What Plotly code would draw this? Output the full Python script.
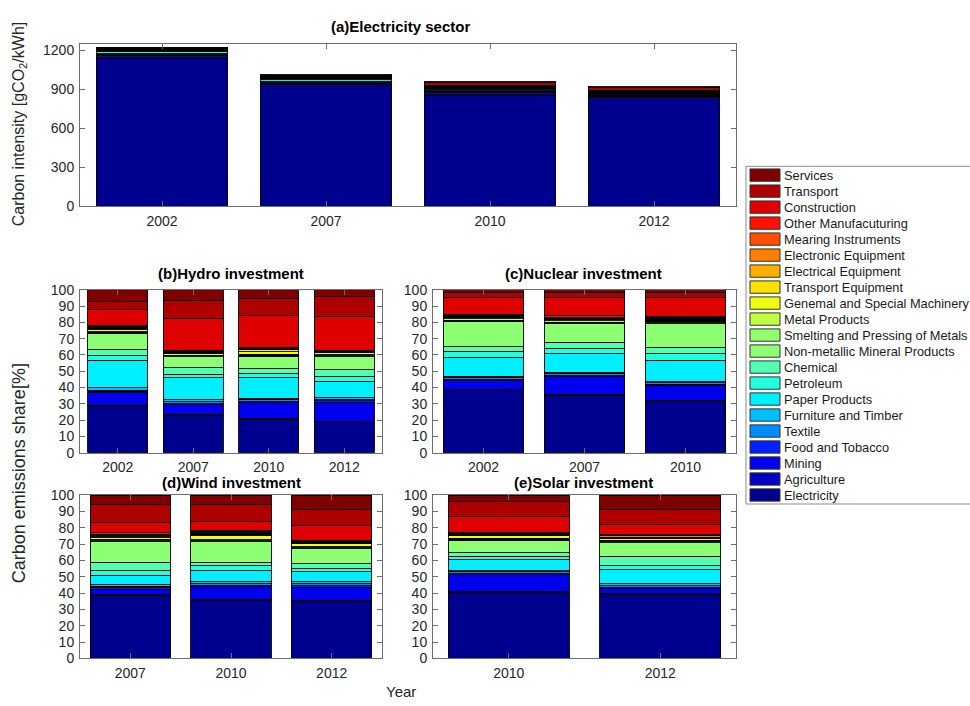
import plotly.graph_objects as go

# Sectors, bottom of the stack first
sectors = [
    "Electricity", "Agriculture", "Mining", "Food and Tobacco", "Textile",
    "Furniture and Timber", "Paper Products", "Petroleum", "Chemical",
    "Non-metallic Mineral Products", "Smelting and Pressing of Metals",
    "Metal Products", "Genemal and Special Machinery", "Transport Equipment",
    "Electrical Equipment", "Electronic Equipment", "Mearing Instruments",
    "Other Manufacuturing", "Construction", "Transport", "Services",
]
sector_colors = [
    "#00008F", "#0000BF", "#0000EF", "#0020FF", "#008CFF",
    "#00BFFF", "#00EFFF", "#20FFDF", "#50FFAF",
    "#8CFF73", "#90FF6F",
    "#BFFF40", "#EFFF10", "#FFE000",
    "#FFAF00", "#FF7F00", "#FF4F00",
    "#FF1000", "#DF0000", "#AF0000", "#7F0000",
]

# (a) Electricity sector, carbon intensity [gCO2/kWh]
elec_years = ["2002", "2007", "2010", "2012"]
elec_2002 = [1137, 5, 15, 5, 3, 3, 10, 8, 4, 5, 5, 2, 2, 2, 2, 1, 1, 2, 3, 3, 2]
elec_2007 = [935, 5, 12, 4, 3, 3, 12, 6, 4, 4, 4, 2, 2, 1, 1, 1, 1, 2, 3, 3, 4]
elec_2010 = [852, 5, 15, 5, 3, 3, 6, 8, 6, 5, 4, 2, 2, 1, 1, 1, 1, 2, 4, 22, 10]
elec_2012 = [818, 5, 14, 5, 3, 3, 6, 8, 7, 5, 4, 2, 2, 1, 1, 1, 1, 2, 4, 20, 8]

# (b) Hydro investment, emissions share [%]
hydro_years = ["2002", "2007", "2010", "2012"]
hydro_2002 = [28.6, 0.6, 7.8, 0.6, 0.8, 1.4, 16.8, 3.0, 4.0, 9.6, 0.6,
              0.5, 1.2, 0.6, 0.4, 0.4, 0.3, 0.8, 10.0, 4.6, 7.4]
hydro_2007 = [23.0, 0.6, 5.8, 0.6, 1.2, 1.4, 13.4, 2.0, 4.0, 6.8, 0.6,
              0.5, 1.0, 0.5, 0.3, 0.3, 0.2, 0.6, 19.6, 11.0, 6.6]
hydro_2010 = [20.6, 0.4, 9.8, 0.6, 1.0, 1.0, 12.6, 2.6, 3.0, 7.6, 0.6,
              0.6, 1.6, 1.2, 0.3, 0.3, 0.2, 0.4, 19.6, 10.8, 5.2]
hydro_2012 = [19.0, 0.4, 11.6, 0.8, 1.0, 1.0, 10.2, 2.6, 4.4, 7.8, 0.6,
              0.6, 1.4, 0.4, 0.2, 0.2, 0.2, 0.4, 21.0, 12.0, 4.2]

# (c) Nuclear investment
nuclear_years = ["2002", "2007", "2010"]
nuclear_2002 = [38.6, 0.4, 5.2, 0.8, 1.0, 1.0, 11.6, 3.6, 2.8, 15.8, 0.6,
                0.8, 0.8, 0.6, 0.3, 0.3, 0.2, 0.4, 10.6, 2.8, 1.8]
nuclear_2007 = [35.4, 0.4, 10.8, 0.8, 1.0, 1.0, 11.2, 3.2, 4.0, 11.8, 0.6,
                0.8, 0.8, 0.6, 0.3, 0.3, 0.2, 0.8, 11.4, 3.2, 1.4]
nuclear_2010 = [31.4, 0.4, 9.4, 0.8, 1.0, 1.0, 12.8, 4.0, 3.8, 14.6, 0.6,
                0.8, 0.8, 0.6, 0.3, 0.3, 0.2, 0.8, 11.8, 3.0, 1.6]

# (d) Wind investment
wind_years = ["2007", "2010", "2012"]
wind_2007 = [38.6, 0.6, 3.2, 0.8, 1.0, 1.0, 5.8, 2.8, 5.0, 12.6, 0.6,
             0.8, 1.0, 0.8, 0.5, 0.5, 0.4, 0.8, 6.2, 11.0, 6.0]
wind_2010 = [35.4, 0.4, 8.2, 0.8, 1.0, 1.0, 7.0, 3.0, 2.0, 12.6, 0.6,
             0.6, 2.8, 0.6, 0.5, 0.5, 0.4, 1.0, 5.6, 10.0, 6.0]
wind_2012 = [35.0, 0.4, 8.2, 0.8, 1.2, 1.2, 6.2, 2.0, 2.8, 9.2, 0.6,
             0.6, 2.2, 0.6, 0.3, 0.3, 0.2, 0.4, 9.2, 10.0, 8.6]

# (e) Solar investment
solar_years = ["2010", "2012"]
solar_2010 = [40.6, 0.4, 10.2, 0.8, 1.0, 0.8, 7.0, 1.8, 2.0, 7.8, 0.6,
              0.6, 1.8, 0.4, 0.2, 0.2, 0.2, 0.4, 10.2, 9.2, 3.8]
solar_2012 = [39.4, 0.4, 3.0, 0.8, 1.0, 1.0, 8.6, 2.6, 5.6, 8.4, 0.6,
              1.0, 0.8, 0.4, 0.4, 1.0, 0.4, 0.4, 6.4, 9.2, 8.6]

panels = [
    ("(a)Electricity sector", elec_years, [elec_2002, elec_2007, elec_2010, elec_2012]),
    ("(b)Hydro investment", hydro_years, [hydro_2002, hydro_2007, hydro_2010, hydro_2012]),
    ("(c)Nuclear investment", nuclear_years, [nuclear_2002, nuclear_2007, nuclear_2010]),
    ("(d)Wind investment", wind_years, [wind_2007, wind_2010, wind_2012]),
    ("(e)Solar investment", solar_years, [solar_2010, solar_2012]),
]

W, H = 970, 706
FONT = "Liberation Sans, Arial, Helvetica, sans-serif"
TXT = "#262626"
AXC = "#6e6e6e"


def fx(px):
    return px / W


def fy(py):
    return 1 - py / H


# axes boxes in pixels: (left, right, top, bottom) and title centres (x, y)
boxes = [
    (80, 736, 36.5, 202.7),
    (80, 382, 288.3, 455),
    (433, 736, 288.3, 455),
    (80, 382, 498.3, 665.5),
    (433, 736, 498.3, 665.5),
]
title_pos = [(400, 19), (231, 272), (583, 272), (231, 486), (583, 486)]

fig = go.Figure()
for p, (title, years, bars) in enumerate(panels):
    ax = "" if p == 0 else str(p + 1)
    for s, name in enumerate(sectors):
        fig.add_trace(go.Bar(
            x=years,
            y=[bar[s] for bar in bars],
            name=name,
            marker=dict(color=sector_colors[s], line=dict(color="#000000", width=0.9)),
            xaxis="x" + ax, yaxis="y" + ax,
            showlegend=False,
            hovertemplate=name + ": %{y}<extra></extra>",
        ))

layout = dict(
    width=W, height=H, autosize=False,
    margin=dict(l=0, r=0, t=0, b=0),
    paper_bgcolor="white", plot_bgcolor="white",
    barmode="stack", bargap=0.2,
    font=dict(family=FONT, size=14, color=TXT),
    annotations=[], shapes=[],
)

for p, (title, years, bars) in enumerate(panels):
    l, r, t, b = boxes[p]
    key = "" if p == 0 else str(p + 1)
    common = dict(showline=True, linecolor=AXC, linewidth=1, mirror="ticks",
                  ticks="inside", tickcolor=AXC, ticklen=5, showgrid=False,
                  zeroline=False, tickfont=dict(family=FONT, size=14, color=TXT))
    layout["xaxis" + key] = dict(common, domain=[fx(l), fx(r)], anchor="y" + key,
                                 type="category", range=[-0.5, len(years) - 0.5],
                                 ticklabelstandoff=2)
    if p == 0:
        yr = dict(range=[0, 1250], tickvals=[0, 300, 600, 900, 1200])
    else:
        yr = dict(range=[0, 100], tickvals=list(range(0, 101, 10)))
    layout["yaxis" + key] = dict(common, domain=[fy(b), fy(t)], anchor="x" + key,
                                 ticklabelstandoff=2, **yr)
    tx, ty = title_pos[p]
    layout["annotations"].append(dict(
        x=fx(tx), y=fy(ty), xref="paper", yref="paper",
        text="<b>" + title + "</b>", showarrow=False, xanchor="center", yanchor="middle",
        font=dict(family=FONT, size=15, color="#000000"),
    ))

# axis titles
layout["annotations"] += [
    dict(x=fx(19), y=fy(119), xref="paper", yref="paper", textangle=-90,
         text="Carbon intensity [gCO<sub>2</sub>/kWh]", showarrow=False,
         xanchor="center", yanchor="middle", font=dict(family=FONT, size=16, color=TXT)),
    dict(x=fx(19), y=fy(476), xref="paper", yref="paper", textangle=-90,
         text="Carbon emissions share[%]", showarrow=False,
         xanchor="center", yanchor="middle", font=dict(family=FONT, size=18, color=TXT)),
    dict(x=fx(401), y=fy(699), xref="paper", yref="paper",
         text="Year", showarrow=False,
         xanchor="center", yanchor="middle", font=dict(family=FONT, size=15, color=TXT)),
]

# legend box, top row = last sector
lg_left, lg_top, lg_bottom = 746, 162, 507.5
layout["shapes"].append(dict(type="rect", xref="paper", yref="paper",
                             x0=fx(lg_left), x1=fx(975), y0=fy(lg_bottom), y1=fy(lg_top),
                             line=dict(color="#8c8c8c", width=1), fillcolor="white", layer="below"))
row_h = (498.3 - 171) / (len(sectors) - 1)
for k, name in enumerate(reversed(sectors)):
    cy = 171 + k * row_h
    col = sector_colors[len(sectors) - 1 - k]
    layout["shapes"].append(dict(type="rect", xref="paper", yref="paper",
                                 x0=fx(750), x1=fx(780), y0=fy(cy + 6.3), y1=fy(cy - 6.3),
                                 line=dict(color="#333333", width=1), fillcolor=col))
    layout["annotations"].append(dict(
        x=fx(782), y=fy(cy), xref="paper", yref="paper", text=name, showarrow=False,
        xanchor="left", yanchor="middle", font=dict(family=FONT, size=12.8, color="#1a1a1a"),
    ))

fig.update_layout(**layout)
fig.write_html("out.html")
